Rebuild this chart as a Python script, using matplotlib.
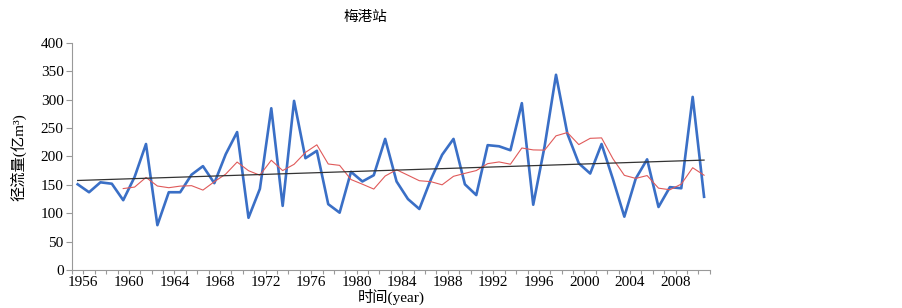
import matplotlib.pyplot as plt
import numpy as np
import pandas as pd

plt.rcParams['font.family'] = ['Liberation Serif', 'Noto Sans CJK SC']

# Data (annual runoff, Meigang station)
years = np.arange(1956, 2012)
runoff = [151, 137, 154.5, 152, 123, 164, 222, 79, 137, 137,
          168, 183, 153, 204, 243, 92, 143, 285, 113, 298,
          197, 210, 116, 101, 173, 156, 167, 231, 156, 125,
          107.5, 159, 203, 231, 151, 132, 220, 218, 211, 294,
          115, 218, 344, 240, 188, 170, 222, 160, 94, 161,
          195, 111, 146, 144, 305, 129]
label_years = list(range(1956, 2012, 4))

# 5-year moving average and linear trend
ma5 = pd.Series(runoff).rolling(5).mean()
coef = np.polyfit(years, runoff, 1)
trend = np.polyval(coef, years)

fig = plt.figure(figsize=(9.03, 3.08), dpi=100)
ax = fig.add_axes([0.0797, 0.1234, 0.7063, 0.7370])

ax.plot(years, runoff, color='#3a6fc6', lw=1.9)
ax.plot(years, ma5, color='#e05a5a', lw=0.8)
ax.plot(years, trend, color='#333333', lw=0.9)

ax.set_xlim(1955.5, 2011.5)
ax.set_ylim(0, 400)
ax.set_yticks(range(0, 401, 50))

bounds = np.arange(1955.5, 2012, 1)
ax.set_xticks(bounds)
ax.set_xticklabels([str(int(b - 0.5)) if int(b - 0.5) in label_years else '' for b in bounds])

for s in ['top', 'right']:
    ax.spines[s].set_visible(False)
for s in ['left', 'bottom']:
    ax.spines[s].set_color('#999999')
    ax.spines[s].set_linewidth(0.8)
ax.tick_params(axis='both', colors='#999999', labelcolor='black', labelsize=11, width=0.8)
ax.tick_params(axis='x', length=3, pad=1)
ax.tick_params(axis='y', length=4, pad=2)

fig.text(0.405, 0.945, '梅港站', ha='center', va='center', fontsize=10.5)
fig.text(0.433, 0.035, '时间(year)', ha='center', va='center', fontsize=11)
fig.text(0.02, 0.49, '径流量(亿m³)', ha='center', va='center', rotation=90, fontsize=11)

fig.savefig('out.png', dpi=100)
